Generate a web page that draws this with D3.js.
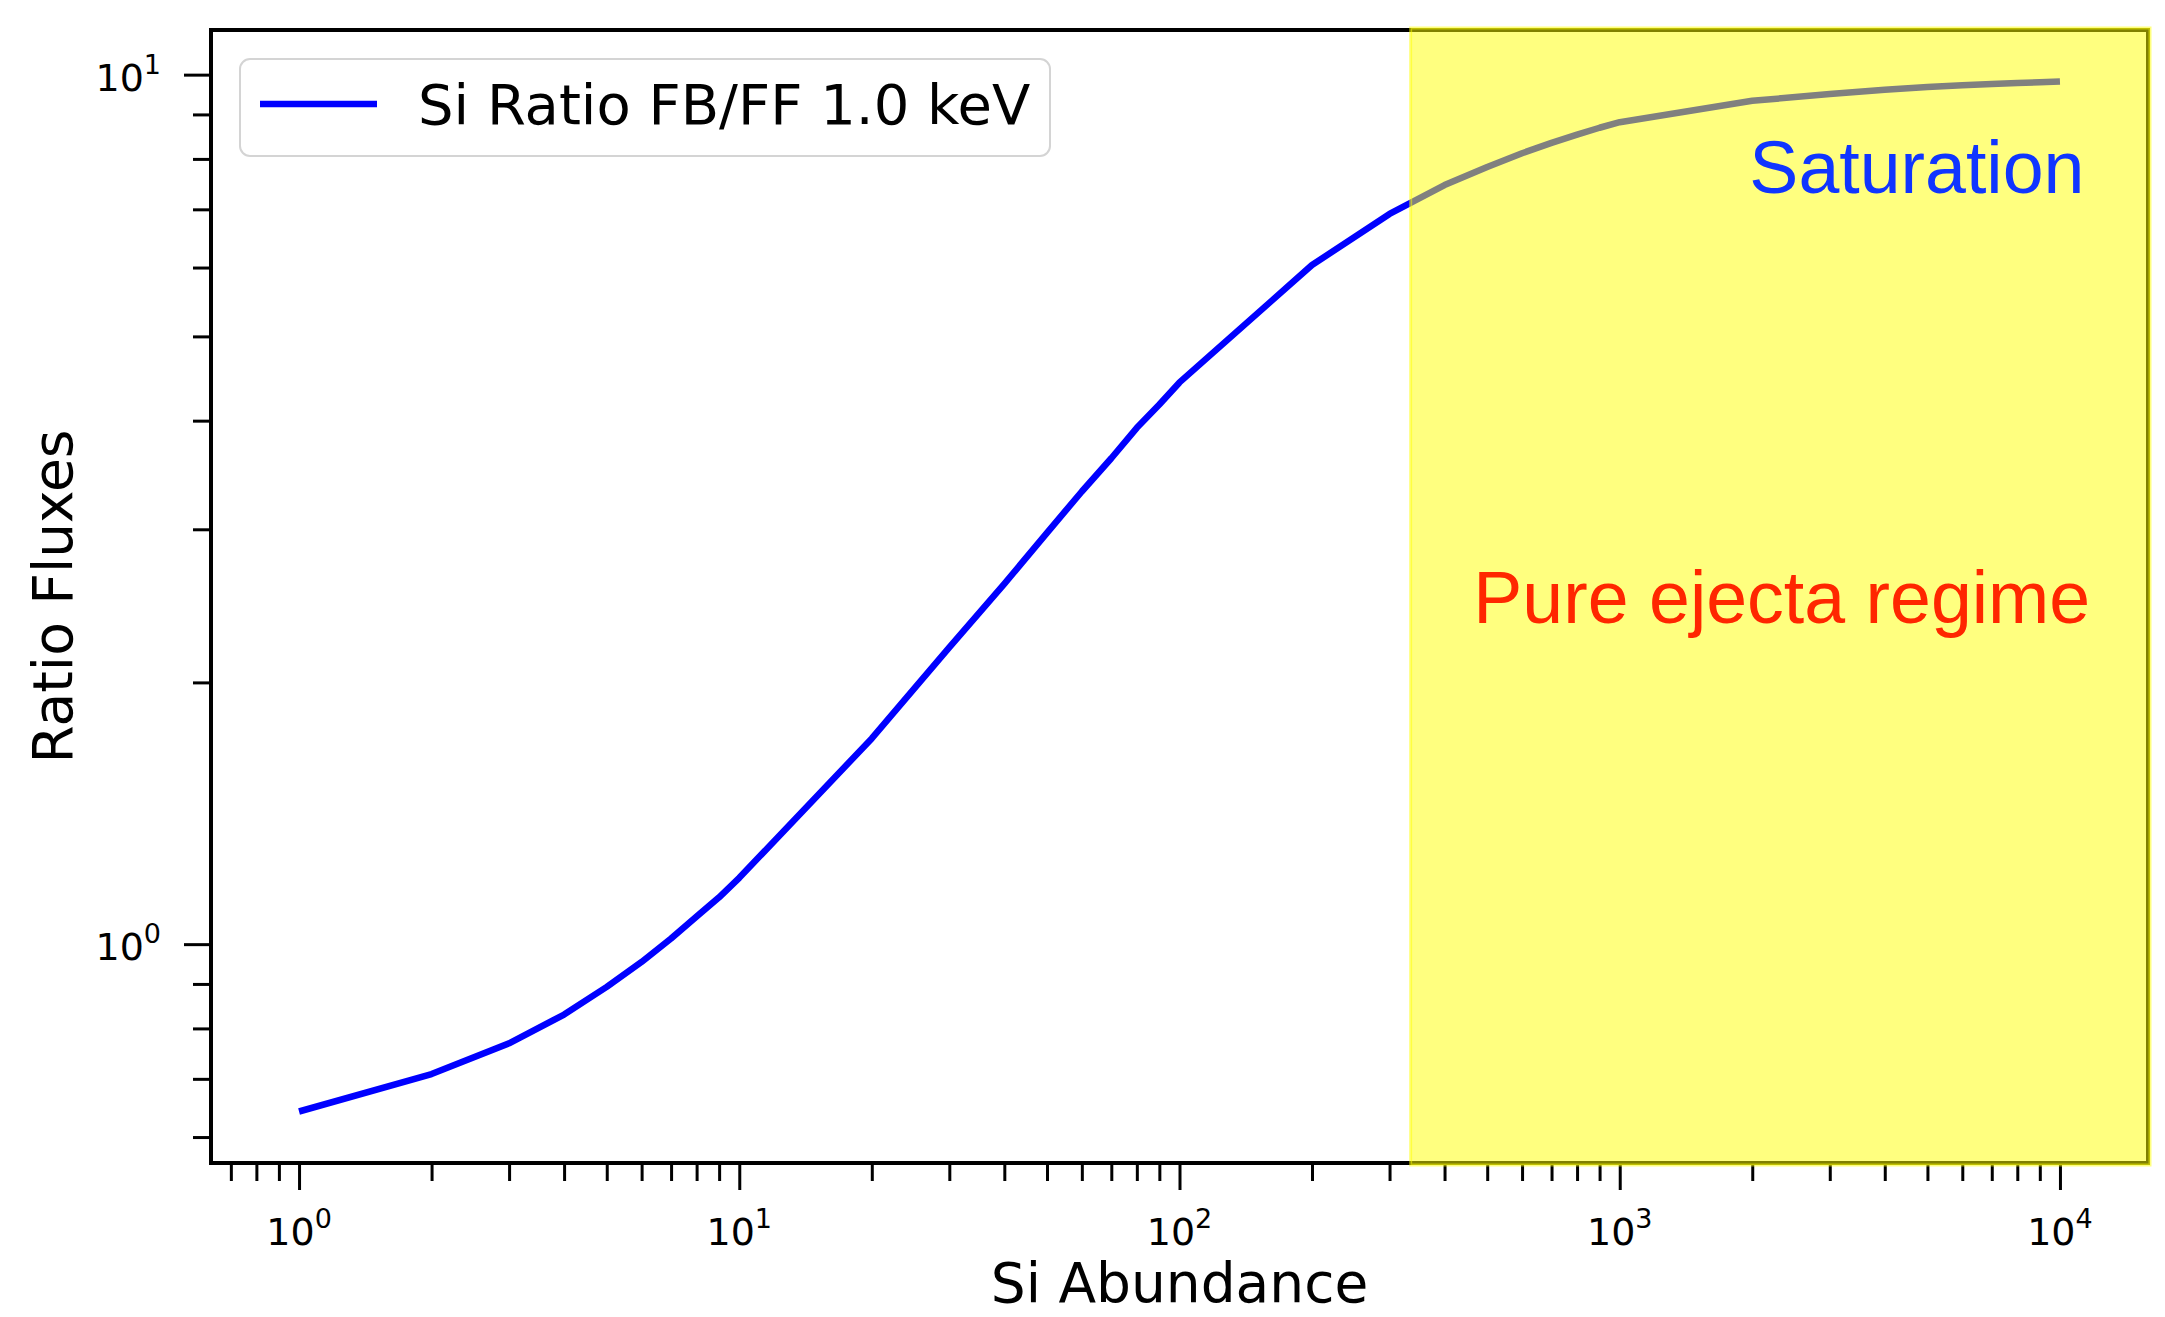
<!DOCTYPE html>
<html>
<head>
<meta charset="utf-8">
<script src="https://cdn.jsdelivr.net/npm/d3@7"></script>
<style>
  body { margin: 0; background: #fff; }
  svg { display: block; }
  text { font-family: "DejaVu Sans", sans-serif; }
</style>
</head>
<body>
<svg id="chart" width="2165" height="1317"></svg>
<script>
// values
var abundance = [1, 2, 3, 4, 5, 6, 7, 8, 9, 10,
    20, 30, 40, 50, 60, 70, 80, 90, 100,
    200, 300, 400, 500, 600, 700, 800, 900, 1000,
    2000, 3000, 4000, 5000, 6000, 7000, 8000, 9000, 10000];
var ratioFlux = [0.642, 0.709, 0.769, 0.830, 0.893, 0.954, 1.015, 1.076, 1.132, 1.192,
    1.724, 2.194, 2.596, 2.972, 3.316, 3.621, 3.925, 4.175, 4.426,
    6.04, 6.915, 7.464, 7.831, 8.121, 8.346, 8.531, 8.688, 8.816,
    9.33, 9.50, 9.605, 9.676, 9.72, 9.755, 9.78, 9.80, 9.82];
var seriesName = "Si Ratio FB/FF 1.0 keV";
var xMajor = [1, 10, 100, 1000, 10000];
var xMajorExp = ["0", "1", "2", "3", "4"];
var yMajor = [1, 10];
var yMajorExp = ["0", "1"];
var spanStart = 335;
var notes = [
    {label: "Saturation", x: 1970, y: 7.3, color: "#1035ff"},
    {label: "Pure ejecta regime", x: 465, y: 2.34, color: "#ff2600"}
];

var W = 2165, H = 1317;
var margin = {left: 211, top: 30, right: 17, bottom: 154};
var svg = d3.select("#chart");

// matplotlib style 5% padding in log space
function padLog(lo, hi) {
    var a = Math.log10(lo), b = Math.log10(hi), m = (b - a) * 0.05;
    return [Math.pow(10, a - m), Math.pow(10, b + m)];
}

var x = d3.scaleLog()
    .domain(padLog(d3.min(abundance), d3.max(abundance)))
    .range([margin.left, W - margin.right]);
var y = d3.scaleLog()
    .domain(padLog(d3.min(ratioFlux), d3.max(ratioFlux)))
    .range([H - margin.bottom, margin.top]);

var x0 = margin.left, x1 = W - margin.right, y0 = margin.top, y1 = H - margin.bottom;

svg.append("defs").append("clipPath").attr("id", "plotclip")
    .append("rect").attr("x", x0).attr("y", y0).attr("width", x1 - x0).attr("height", y1 - y0);

// ticks
var xMinor = x.ticks().filter(function(d){ return xMajor.indexOf(d) < 0 });
var yMinor = y.ticks().filter(function(d){ return yMajor.indexOf(d) < 0 });

function styleAxis(g) {
    g.select(".domain").remove();
    g.selectAll(".tick line").attr("stroke", "#000").attr("stroke-width", 3);
    g.selectAll(".tick text").remove();
}

svg.append("g").attr("transform", "translate(0," + y1 + ")")
    .call(d3.axisBottom(x).tickValues(xMinor).tickSize(18)).call(styleAxis);
svg.append("g").attr("transform", "translate(0," + y1 + ")")
    .call(d3.axisBottom(x).tickValues(xMajor).tickSize(27)).call(styleAxis);
svg.append("g").attr("transform", "translate(" + x0 + ",0)")
    .call(d3.axisLeft(y).tickValues(yMinor).tickSize(18)).call(styleAxis);
svg.append("g").attr("transform", "translate(" + x0 + ",0)")
    .call(d3.axisLeft(y).tickValues(yMajor).tickSize(27)).call(styleAxis);

// tick labels as 10^n
xMajor.forEach(function(v, i){
    var t = svg.append("text")
        .attr("x", x(v)).attr("y", 1245)
        .attr("text-anchor", "middle")
        .attr("font-size", 38);
    t.append("tspan").text("10");
    t.append("tspan").attr("font-size", 27).attr("dy", -17).text(xMajorExp[i]);
});
yMajor.forEach(function(v, i){
    var t = svg.append("text")
        .attr("x", 161).attr("y", y(v) + 16)
        .attr("text-anchor", "end")
        .attr("font-size", 38);
    t.append("tspan").text("10");
    t.append("tspan").attr("font-size", 27).attr("dy", -17).text(yMajorExp[i]);
});

// data line
var line = d3.line()
    .x(function(d){ return x(d[0]) })
    .y(function(d){ return y(d[1]) });
svg.append("path")
    .datum(d3.zip(abundance, ratioFlux))
    .attr("clip-path", "url(#plotclip)")
    .attr("d", line)
    .attr("fill", "none")
    .attr("stroke", "#0000ff")
    .attr("stroke-width", 6.5)
    .attr("stroke-linejoin", "round");

// spines
svg.append("rect")
    .attr("x", x0).attr("y", y0).attr("width", x1 - x0).attr("height", y1 - y0)
    .attr("fill", "none").attr("stroke", "#000").attr("stroke-width", 4);

// yellow span on top
svg.append("rect")
    .attr("x", x(spanStart)).attr("y", y0 - 2)
    .attr("width", x1 + 2 - x(spanStart)).attr("height", y1 - y0 + 4)
    .attr("fill", "rgba(255,255,0,0.5)")
    .attr("stroke", "rgba(255,255,0,0.5)")
    .attr("stroke-width", 3);

// annotations
svg.selectAll(".note").data(notes).enter().append("text")
    .attr("class", "note")
    .attr("x", function(d){ return x(d.x) })
    .attr("y", function(d){ return y(d.y) })
    .attr("fill", function(d){ return d.color })
    .style("font-family", "'Liberation Sans', Arial, sans-serif")
    .attr("font-size", 73.5)
    .text(function(d){ return d.label });

// axis labels
svg.append("text")
    .attr("x", (x0 + x1) / 2).attr("y", 1302)
    .attr("text-anchor", "middle").attr("font-size", 55)
    .text("Si Abundance");
svg.append("text")
    .attr("transform", "translate(72," + ((y0 + y1) / 2) + ") rotate(-90)")
    .attr("text-anchor", "middle").attr("font-size", 55)
    .text("Ratio Fluxes");

// legend
var lg = svg.append("g").attr("transform", "translate(" + (x0 + 29) + "," + (y0 + 29) + ")");
lg.append("rect")
    .attr("width", 810).attr("height", 97).attr("rx", 10)
    .attr("fill", "rgba(255,255,255,0.8)")
    .attr("stroke", "#d4d4d4").attr("stroke-width", 2);
lg.append("line")
    .attr("x1", 20).attr("x2", 137).attr("y1", 45).attr("y2", 45)
    .attr("stroke", "#0000ff").attr("stroke-width", 6.5);
lg.append("text")
    .attr("x", 178).attr("y", 65).attr("font-size", 56)
    .text(seriesName);
</script>
</body>
</html>
